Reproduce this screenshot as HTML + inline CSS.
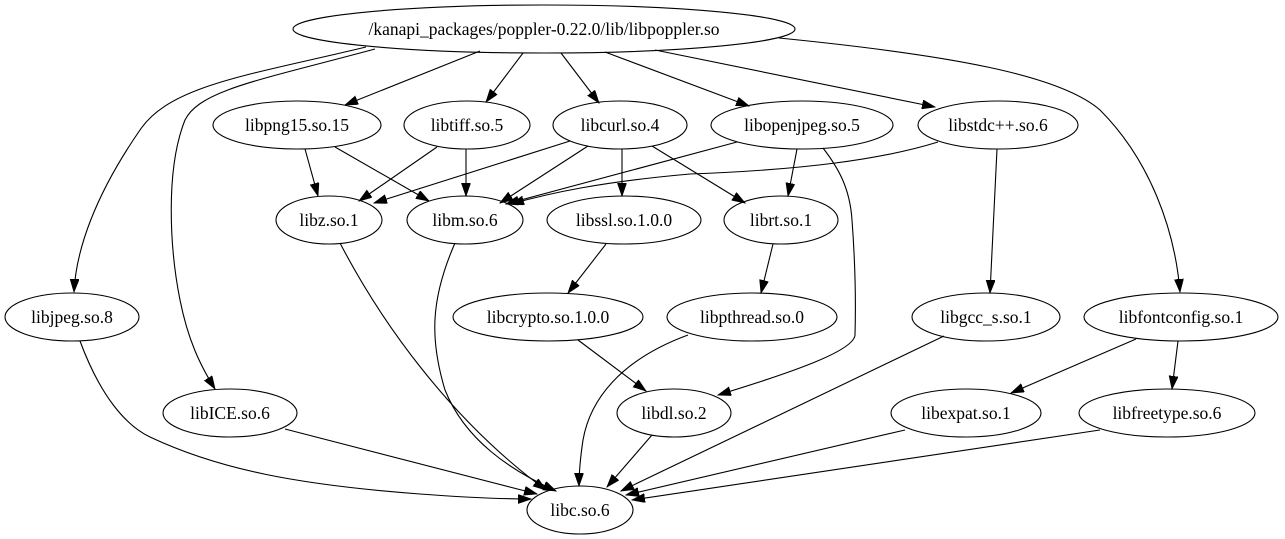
<!DOCTYPE html>
<html><head><meta charset="utf-8"><style>
html,body{margin:0;padding:0;background:#fff;}
svg{display:block;}
text{font-family:"Liberation Serif","Times New Roman",serif;font-size:17.5px;fill:#000;}
</style></head><body>
<svg width="1285" height="539" viewBox="0 0 1285 539" xmlns="http://www.w3.org/2000/svg">
<defs>
<marker id="a" markerWidth="14" markerHeight="10" refX="13" refY="4.5" orient="auto" markerUnits="userSpaceOnUse">
<path d="M0,0 L13,4.5 L0,9 z" fill="#000" stroke="#000" stroke-width="0.8"/>
</marker>
</defs>
<g fill="none" stroke="#000" stroke-width="1.1" marker-end="url(#a)">
<path d="M480,51 L345,105"/>
<path d="M523,53 L486,102"/>
<path d="M561,53 L599,103"/>
<path d="M605,52 L749,106"/>
<path d="M655,50 L935,107"/>
<path d="M366,47 C250,75 170,85 140,130 C95,195 76,250 74,292"/>
<path d="M375,49 C260,80 200,90 185,120 C165,170 170,250 180,300 C188,340 200,365 215,389"/>
<path d="M779,38 C950,55 1060,75 1100,110 C1150,160 1175,230 1180,292"/>
<path d="M305,149 L318,196"/>
<path d="M335,147 L429,201"/>
<path d="M437,147 L359,201"/>
<path d="M466,149 L466,196"/>
<path d="M570,141 L374,203"/>
<path d="M588,146 L500,203"/>
<path d="M622,149 L622,196"/>
<path d="M652,146 L745,203"/>
<path d="M737,142 L506,204"/>
<path d="M797,149 L788,196"/>
<path d="M823,148 C840,170 850,190 852,220 C855,260 856,300 855,335 C854,350 800,370 718,395"/>
<path d="M938,142 C880,160 800,170 690,174 C600,182 550,193 511,204"/>
<path d="M997,149 L990,293"/>
<path d="M340,243 C380,320 450,420 546,490"/>
<path d="M455,243 C430,300 430,340 445,390 C465,440 510,470 556,491"/>
<path d="M606,244 L568,293"/>
<path d="M773,244 L761,293"/>
<path d="M578,340 L646,391"/>
<path d="M688,335 C620,360 590,400 583,440 C580,460 579,475 579,486"/>
<path d="M652,435 L607,487"/>
<path d="M944,336 L621,491"/>
<path d="M80,341 C100,395 125,425 150,437 C220,470 300,485 420,494 C460,497 500,499 531,499"/>
<path d="M285,429 L537,494"/>
<path d="M905,430 L626,495"/>
<path d="M1100,430 L632,500"/>
<path d="M1136,339 L1011,393"/>
<path d="M1178,341 L1172,389"/>
</g>
<g fill="none" stroke="#000" stroke-width="1.1">
<ellipse cx="544" cy="29" rx="251" ry="24"/>
<ellipse cx="297" cy="125" rx="84" ry="24"/>
<ellipse cx="467" cy="125" rx="63" ry="24"/>
<ellipse cx="620" cy="125" rx="67" ry="24"/>
<ellipse cx="802" cy="125" rx="91" ry="24"/>
<ellipse cx="998" cy="125" rx="80" ry="24"/>
<ellipse cx="329" cy="220" rx="53" ry="24"/>
<ellipse cx="465" cy="220" rx="58" ry="24"/>
<ellipse cx="624" cy="220" rx="77" ry="24"/>
<ellipse cx="781" cy="220" rx="57" ry="24"/>
<ellipse cx="72" cy="317" rx="67" ry="24"/>
<ellipse cx="548" cy="317" rx="95" ry="24"/>
<ellipse cx="752" cy="317" rx="85" ry="24"/>
<ellipse cx="986" cy="317" rx="74" ry="24"/>
<ellipse cx="1181" cy="317" rx="97" ry="24"/>
<ellipse cx="230" cy="413" rx="67" ry="24"/>
<ellipse cx="674" cy="413" rx="57" ry="24"/>
<ellipse cx="966" cy="413" rx="75" ry="24"/>
<ellipse cx="1167" cy="413" rx="88" ry="24"/>
<ellipse cx="580" cy="510" rx="53" ry="24"/>
</g>
<g text-anchor="middle">
<text x="544" y="35">/kanapi_packages/poppler-0.22.0/lib/libpoppler.so</text>
<text x="297" y="131">libpng15.so.15</text>
<text x="467" y="131">libtiff.so.5</text>
<text x="620" y="131">libcurl.so.4</text>
<text x="802" y="131">libopenjpeg.so.5</text>
<text x="998" y="131">libstdc++.so.6</text>
<text x="329" y="226">libz.so.1</text>
<text x="465" y="226">libm.so.6</text>
<text x="624" y="226">libssl.so.1.0.0</text>
<text x="781" y="226">librt.so.1</text>
<text x="72" y="323">libjpeg.so.8</text>
<text x="548" y="323">libcrypto.so.1.0.0</text>
<text x="752" y="323">libpthread.so.0</text>
<text x="986" y="323">libgcc_s.so.1</text>
<text x="1181" y="323">libfontconfig.so.1</text>
<text x="230" y="419">libICE.so.6</text>
<text x="674" y="419">libdl.so.2</text>
<text x="966" y="419">libexpat.so.1</text>
<text x="1167" y="419">libfreetype.so.6</text>
<text x="580" y="516">libc.so.6</text>
</g>
</svg>
</body></html>
